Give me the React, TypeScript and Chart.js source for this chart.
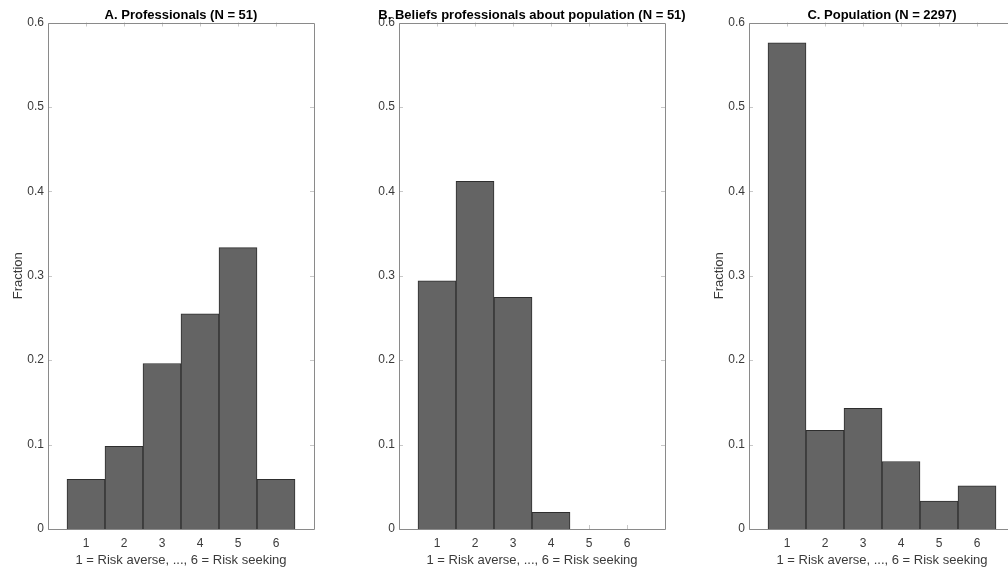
import React, { useEffect, useRef } from "react";
import { Chart, registerables } from "chart.js";
Chart.register(...registerables);

const categories = [1, 2, 3, 4, 5, 6];
const professionals = [0.0588, 0.098, 0.1961, 0.2549, 0.3333, 0.0588];
const beliefs = [0.2941, 0.4118, 0.2745, 0.0196, 0, 0];
const population = [0.576, 0.117, 0.143, 0.08, 0.033, 0.051];
const yTicks = [0, 0.1, 0.2, 0.3, 0.4, 0.5, 0.6];
const xLabel = "1 = Risk averse, ..., 6 = Risk seeking";
const yLabel = "Fraction";

const FONT = "'Liberation Sans', Arial, Helvetica, sans-serif";

const panelPlugin = {
  id: "panelDecor",
  beforeDatasetsDraw(chart: any) {
    const { ctx, chartArea: a, scales } = chart;
    ctx.save();
    ctx.strokeStyle = "#c8c8c8";
    ctx.lineWidth = 1;
    ctx.beginPath();
    categories.forEach((v) => {
      const px = Math.round(scales.x.getPixelForValue(v)) + 0.5;
      ctx.moveTo(px, a.bottom);
      ctx.lineTo(px, a.bottom - 4);
      ctx.moveTo(px, a.top);
      ctx.lineTo(px, a.top + 4);
    });
    yTicks.forEach((v) => {
      const py = Math.round(scales.y.getPixelForValue(v)) + 0.5;
      ctx.moveTo(a.left, py);
      ctx.lineTo(a.left + 4, py);
      ctx.moveTo(a.right, py);
      ctx.lineTo(a.right - 4, py);
    });
    ctx.stroke();
    ctx.restore();
  },
  afterDatasetsDraw(chart: any) {
    const { ctx, chartArea: a } = chart;
    ctx.save();
    ctx.strokeStyle = "#8a8a8a";
    ctx.lineWidth = 1;
    ctx.beginPath();
    const l = Math.round(a.left) + 0.5;
    const r = Math.round(a.right) + 0.5;
    const t = Math.round(a.top) + 0.5;
    const b = Math.round(a.bottom) + 0.5;
    ctx.moveTo(l, t);
    ctx.lineTo(r, t);
    ctx.lineTo(r, b);
    ctx.lineTo(l, b);
    ctx.closePath();
    ctx.stroke();
    const title = chart.options.plugins.panelDecor.title;
    ctx.fillStyle = "#000";
    ctx.font = `bold 13px ${FONT}`;
    ctx.textAlign = "center";
    ctx.textBaseline = "middle";
    ctx.fillText(title, (a.left + a.right) / 2, a.top - 7);
    ctx.restore();
  },
};

function Panel(props: {
  values: number[];
  title: string;
  showYLabel: boolean;
  left: number;
  width: number;
  padRight: number;
}) {
  const ref = useRef<HTMLCanvasElement>(null);
  useEffect(() => {
    if (!ref.current) return;
    const chart = new Chart(ref.current, {
      type: "bar",
      data: {
        datasets: [
          {
            data: categories.map((c, i) => ({ x: c, y: props.values[i] })),
            backgroundColor: "#646464",
            borderColor: "#2e2e2e",
            borderWidth: 1,
            barPercentage: 1,
            categoryPercentage: 1,
          },
        ],
      },
      options: {
        responsive: false,
        animation: false,
        events: [],
        layout: { padding: { top: 22.5, right: props.padRight, bottom: 0, left: 0 } },
        plugins: {
          legend: { display: false },
          tooltip: { enabled: false },
          title: { display: false },
          panelDecor: { title: props.title },
        } as any,
        scales: {
          x: {
            type: "linear",
            min: 0,
            max: 7,
            offset: false,
            afterBuildTicks: (scale: any) => {
              scale.ticks = categories.map((v) => ({ value: v }));
            },
            afterFit: (scale: any) => {
              scale.height = 43;
            },
            grid: { display: false, drawTicks: false },
            border: { display: false },
            ticks: {
              color: "#3a3a3a",
              font: { family: FONT, size: 12 },
              padding: 7,
              maxRotation: 0,
              autoSkip: false,
              callback: (v: any) => String(v),
            },
            title: {
              display: true,
              text: xLabel,
              color: "#3a3a3a",
              font: { family: FONT, size: 13 },
              padding: { top: 0, bottom: 4 },
            },
          },
          y: {
            type: "linear",
            min: 0,
            max: 0.6,
            afterBuildTicks: (scale: any) => {
              scale.ticks = yTicks.map((v) => ({ value: v }));
            },
            afterFit: (scale: any) => {
              scale.width = 48;
            },
            grid: { display: false, drawTicks: false },
            border: { display: false },
            ticks: {
              color: "#3a3a3a",
              font: { family: FONT, size: 12 },
              padding: 4,
              callback: (v: any) => (v === 0 ? "0" : Number(v).toFixed(1)),
            },
            title: {
              display: props.showYLabel,
              text: yLabel,
              color: "#3a3a3a",
              font: { family: FONT, size: 13 },
              padding: { top: 11, bottom: 0 },
            },
          },
        },
      } as any,
      plugins: [panelPlugin],
    });
    return () => chart.destroy();
  }, []);
  return (
    <canvas
      ref={ref}
      width={props.width}
      height={572}
      style={{ position: "absolute", left: props.left, top: 0, width: props.width, height: 572 }}
    />
  );
}

export default function App() {
  return (
    <div
      style={{
        position: "absolute",
        left: 0,
        top: 0,
        width: 1008,
        height: 572,
        overflow: "hidden",
        background: "#fff",
      }}
    >
      <Panel values={professionals} title="A. Professionals (N = 51)" showYLabel={true} left={0} width={330} padRight={16} />
      <Panel
        values={beliefs}
        title="B. Beliefs professionals about population (N = 51)"
        showYLabel={false}
        left={351}
        width={350}
        padRight={36}
      />
      <Panel values={population} title="C. Population (N = 2297)" showYLabel={true} left={701} width={330} padRight={16} />
    </div>
  );
}
